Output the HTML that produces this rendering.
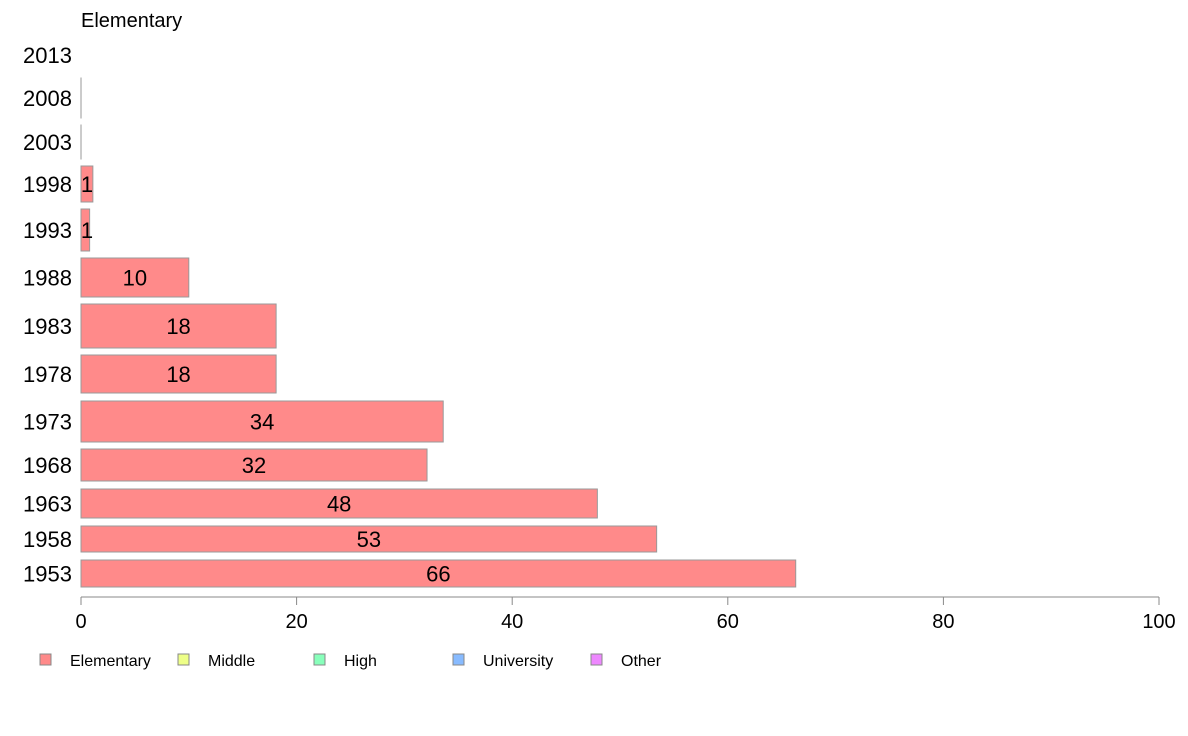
<!DOCTYPE html>
<html><head><meta charset="utf-8"><style>
body{margin:0;background:#fff;}
svg{display:block;font-family:"Liberation Sans",Arial,sans-serif;}
</style></head><body>
<svg id="chart" width="1188" height="736">
<text x="81" y="27" font-size="20" fill="#000">Elementary</text>
<g id="bars"></g>
<g id="axis"></g>
<g id="legend"></g>
</svg>
<script>
const years=["2013","2008","2003","1998","1993","1988","1983","1978","1973","1968","1963","1958","1953"];
const values=[null,0,0,1.1,0.8,10,18.1,18.1,33.6,32.1,47.9,53.4,66.3];
const valueLabels=["","","","1","1","10","18","18","34","32","48","53","66"];
const ticks=[0,20,40,60,80,100];
const legendLabels=["Elementary","Middle","High","University","Other"];
const legendColors=["#ff8a8a","#eeff88","#88ffbb","#88bbff","#ee88ff"];
// layout: band top/bottom in px (not data)
const bandTop=[36,78,125,166,209,258,304,355,401,449,489,526,560];
const bandBot=[74,118,159,202,251,297,348,393,442,481,518,552,587];
const legendX=[40,178,314,453,591];

const NS="http://www.w3.org/2000/svg";
const x0=81,x1=1159,xMax=100;
const X=v=>x0+(v/xMax)*(x1-x0);
function mk(tag,attrs,parent){const e=document.createElementNS(NS,tag);for(const k in attrs)e.setAttribute(k,attrs[k]);parent.appendChild(e);return e;}
const gb=document.getElementById('bars'),ga=document.getElementById('axis'),gl=document.getElementById('legend');
years.forEach((y,i)=>{
  const cy=(bandTop[i]+bandBot[i])/2;
  const t=mk('text',{x:72,y:cy+8,'font-size':22,'text-anchor':'end',fill:'#000'},gb);
  
  
  t.textContent=y;
  if(values[i]===null)return;
  const w=X(values[i])-x0;
  const r=mk('rect',{x:x0,y:bandTop[i],width:Math.max(w,0.01),height:bandBot[i]-bandTop[i],fill:'#ff8a8a',stroke:'#999','stroke-width':1},gb);
  
  
  if(valueLabels[i]){
    const l=mk('text',{x:x0+Math.max(w/2,6),y:cy+8,'font-size':22,'text-anchor':'middle',fill:'#000'},gb);
    
    
    l.textContent=valueLabels[i];
  }
});
const al=mk('line',{x1:x0,x2:x1,y1:597,y2:597,stroke:'#888','stroke-width':1},ga);


ticks.forEach(v=>{
  const tl=mk('line',{x1:X(v),x2:X(v),y1:597,y2:605,stroke:'#888','stroke-width':1},ga);
  
  
  const t=mk('text',{x:X(v),y:628,'font-size':20,'text-anchor':'middle',fill:'#000'},ga);
  
  
  t.textContent=v;
});
legendLabels.forEach((n,i)=>{
  const g=mk('g',{},gl);
  
  
  mk('rect',{x:legendX[i],y:654,width:11,height:11,fill:legendColors[i],stroke:'#888','stroke-width':1},g);
  const t=mk('text',{x:legendX[i]+30,y:666,'font-size':16,fill:'#000'},g);
  t.textContent=n;
});
</script>
</body></html>
